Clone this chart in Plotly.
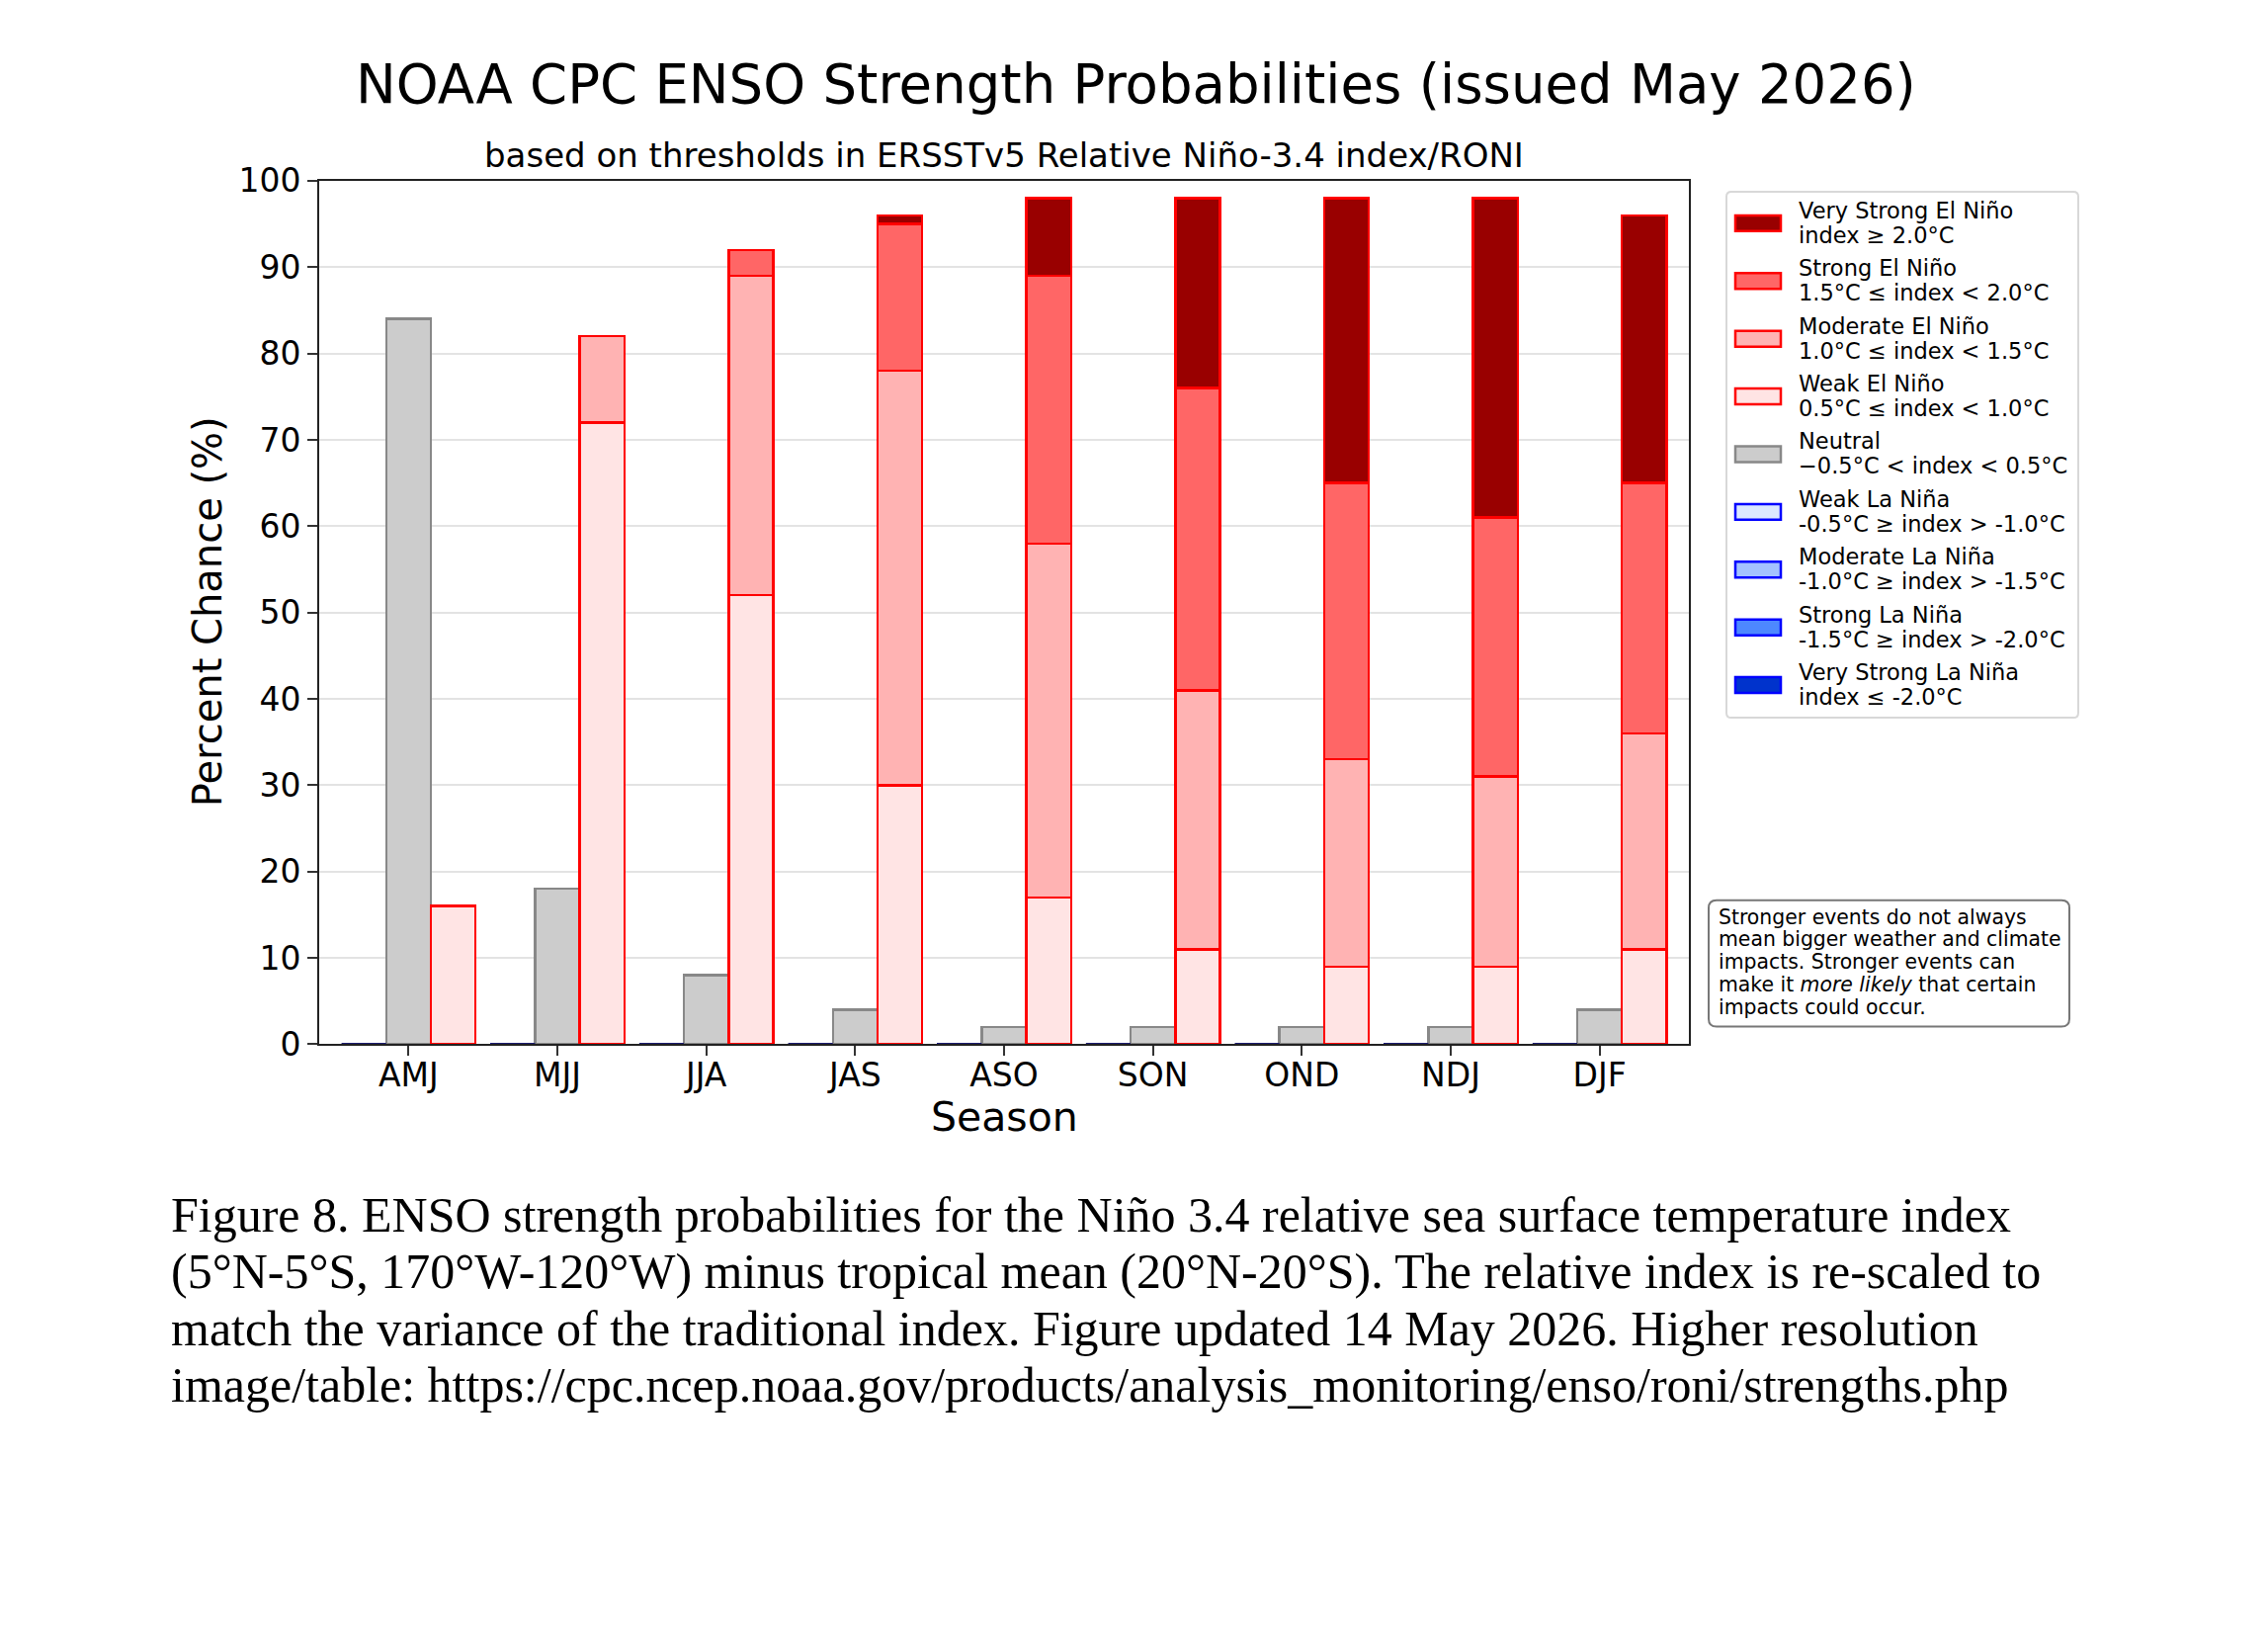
import plotly.graph_objects as go

W, H = 2295, 1649

seasons = ["AMJ", "MJJ", "JJA", "JAS", "ASO", "SON", "OND", "NDJ", "DJF"]

# probabilities (%)
vstrong_lanina = [0, 0, 0, 0, 0, 0, 0, 0, 0]
strong_lanina = [0, 0, 0, 0, 0, 0, 0, 0, 0]
mod_lanina = [0, 0, 0, 0, 0, 0, 0, 0, 0]
weak_lanina = [0, 0, 0, 0, 0, 0, 0, 0, 0]
neutral = [84, 18, 8, 4, 2, 2, 2, 2, 4]
weak_elnino = [16, 72, 52, 30, 17, 11, 9, 9, 11]
mod_elnino = [0, 10, 37, 48, 41, 30, 24, 22, 25]
strong_elnino = [0, 0, 3, 17, 31, 35, 32, 30, 29]
vstrong_elnino = [0, 0, 0, 1, 9, 22, 33, 37, 31]

legend_names = [
    "Very Strong El Niño", "Strong El Niño", "Moderate El Niño", "Weak El Niño",
    "Neutral", "Weak La Niña", "Moderate La Niña", "Strong La Niña",
    "Very Strong La Niña",
]
legend_ranges = [
    "index ≥ 2.0°C", "1.5°C ≤ index < 2.0°C", "1.0°C ≤ index < 1.5°C",
    "0.5°C ≤ index < 1.0°C", "−0.5°C < index < 0.5°C", "-0.5°C ≥ index > -1.0°C",
    "-1.0°C ≥ index > -1.5°C", "-1.5°C ≥ index > -2.0°C", "index ≤ -2.0°C",
]

note_lines = [
    "Stronger events do not always",
    "mean bigger weather and climate",
    "impacts. Stronger events can",
    "make it <i>more likely</i> that certain",
    "impacts could occur.",
]

caption_lines = [
    "Figure 8. ENSO strength probabilities for the Niño 3.4 relative sea surface temperature index",
    "(5°N-5°S, 170°W-120°W) minus tropical mean (20°N-20°S). The relative index is re-scaled to",
    "match the variance of the traditional index. Figure updated 14 May 2026. Higher resolution",
    "image/table: https://cpc.ncep.noaa.gov/products/analysis_monitoring/enso/roni/strengths.php",
]

RED = "#ff0000"
BLUE = "#0000ff"
fills = ["#990000", "#ff6666", "#ffb3b3", "#ffe4e4", "#cccccc",
         "#dbe8ff", "#a3c2ff", "#4d88ff", "#0033cc"]
edges = [RED, RED, RED, RED, "#888888", BLUE, BLUE, BLUE, BLUE]

FONT = "DejaVu Sans"
BW = 0.3


# pixel positions (measured on the reference) -> paper coords,
# with a small correction for how the page gets photographed
def px(x):
    return (x - 7) / W


def py(y):
    return 1 - (y - 26.8) / 0.978 / H


idx = list(range(len(seasons)))
x_la = [i - BW for i in idx]
x_neu = idx
x_el = [i + BW for i in idx]

fig = go.Figure()

stacks = [
    (x_la, [weak_lanina, mod_lanina, strong_lanina, vstrong_lanina], [5, 6, 7, 8]),
    (x_neu, [neutral], [4]),
    (x_el, [weak_elnino, mod_elnino, strong_elnino, vstrong_elnino], [3, 2, 1, 0]),
]
for xs, series, styles in stacks:
    for vals, k in zip(series, styles):
        fig.add_trace(go.Bar(
            x=xs, y=vals, width=BW, name=legend_names[k],
            marker=dict(color=fills[k], line=dict(color=edges[k], width=2.5)),
            showlegend=False,
        ))

# zero-height La Nina bars show up as a dark edge line at their total
la_total = [a + b + c + d for a, b, c, d in zip(weak_lanina, mod_lanina, strong_lanina, vstrong_lanina)]
lx, ly = [], []
for x, t in zip(x_la, la_total):
    lx += [x - BW / 2, x + BW / 2, None]
    ly += [t, t, None]
fig.add_trace(go.Scatter(x=lx, y=ly, mode="lines", line=dict(color="#1c1c6e", width=3),
                         showlegend=False, hoverinfo="skip"))

fig.update_xaxes(
    domain=[px(322), px(1708)], range=[-0.6, len(seasons) - 0.4],
    tickvals=idx, ticktext=seasons, ticks="outside", ticklen=10, tickwidth=2,
    tickcolor="#333333", showline=True, linecolor="#222222", linewidth=2, mirror=True,
    showgrid=False, tickfont=dict(size=33, family=FONT, color="black"), zeroline=False,
    ticklabelstandoff=-9,
)
fig.update_yaxes(
    domain=[py(1058), py(183)], range=[0, 100], dtick=10, ticks="outside", ticklen=10,
    tickwidth=2, tickcolor="#333333", showline=True, linecolor="#222222", linewidth=2,
    mirror=True, showgrid=True, gridcolor="#e3e3e3", gridwidth=2, zeroline=False,
    tickfont=dict(size=33, family=FONT, color="black"),
)

ann = []
ann.append(dict(text="NOAA CPC ENSO Strength Probabilities (issued May 2026)", x=px(1148), y=py(85),
                font=dict(size=54.5, family=FONT)))
ann.append(dict(text="based on thresholds in ERSSTv5 Relative Niño-3.4 index/RONI", x=px(1015), y=py(157),
                font=dict(size=34, family=FONT)))
ann.append(dict(text="Percent Chance (%)", x=px(209), y=py(620), textangle=-90,
                font=dict(size=40, family=FONT)))
ann.append(dict(text="Season", x=px(1015), y=py(1132), font=dict(size=41, family=FONT)))

shapes = []


def rounded_box(x0, y0, x1, y1, r, color, width):
    rx, ry = r / W, r / H
    a0, a1, b0, b1 = px(x0), px(x1), py(y0), py(y1)
    path = (f"M{a0 + rx},{b0} L{a1 - rx},{b0} Q{a1},{b0} {a1},{b0 - ry} "
            f"L{a1},{b1 + ry} Q{a1},{b1} {a1 - rx},{b1} L{a0 + rx},{b1} "
            f"Q{a0},{b1} {a0},{b1 + ry} L{a0},{b0 - ry} Q{a0},{b0} {a0 + rx},{b0} Z")
    return dict(type="path", path=path, xref="paper", yref="paper",
                line=dict(color=color, width=width), fillcolor="white")


# legend
shapes.append(rounded_box(1746, 194, 2102, 727, 5, "#d8d8d8", 2))
for k, (name, rng) in enumerate(zip(legend_names, legend_ranges)):
    cy = 226 + k * 58.5
    shapes.append(dict(type="rect", xref="paper", yref="paper",
                       x0=px(1755), x1=px(1801), y0=py(cy - 8), y1=py(cy + 8),
                       fillcolor=fills[k], line=dict(color=edges[k], width=2.5)))
    ann.append(dict(text=name, x=px(1817), y=py(cy - 13), xanchor="left",
                    font=dict(size=22.5, family=FONT)))
    ann.append(dict(text=rng, x=px(1817), y=py(cy + 12), xanchor="left",
                    font=dict(size=22.5, family=FONT)))

# note box
shapes.append(rounded_box(1728, 912, 2093, 1040, 8, "#777777", 2))
for k, line in enumerate(note_lines):
    ann.append(dict(text=line, x=px(1736), y=py(929 + k * 22.8), xanchor="left",
                    font=dict(size=20.4, family=FONT)))

# caption
for k, line in enumerate(caption_lines):
    ann.append(dict(text=line, x=px(170), y=py(1231 + k * 57.4), xanchor="left",
                    font=dict(size=50, family="Liberation Serif")))

for a in ann:
    a.setdefault("xanchor", "center")
    a.update(xref="paper", yref="paper", yanchor="middle", showarrow=False)
    a["font"].setdefault("color", "black")

fig.update_layout(
    width=W, height=H, margin=dict(l=0, r=0, t=0, b=0),
    paper_bgcolor="white", plot_bgcolor="white",
    barmode="stack", showlegend=False,
    annotations=ann, shapes=shapes,
)

fig.write_html("out.html")
